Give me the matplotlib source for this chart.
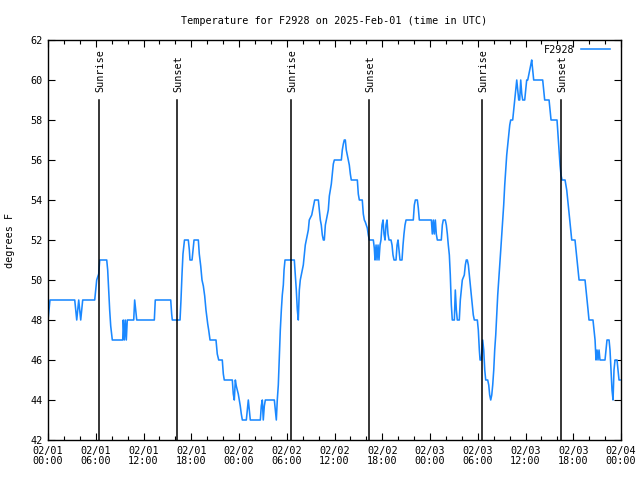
import matplotlib
matplotlib.use("Agg")
import matplotlib.pyplot as plt
import numpy as np

# Hours since 2025-02-01 00:00 UTC and temperature (deg F)
hours = [0, 0.13, 0.25, 3.36, 3.48, 3.61, 3.73, 3.86, 3.98, 4.11, 4.23, 4.36,
         5.87, 5.99, 6.12, 6.37, 6.50, 7.38, 7.50, 7.63, 7.75, 7.88, 8.08,
         9.39, 9.46, 9.59, 9.71, 9.84, 9.96, 10.14, 10.77, 10.89, 11.02, 11.15,
         13.36, 13.48, 15.42, 15.54, 15.62, 16.59, 16.71, 16.84, 16.96, 17.09,
         17.15, 17.63, 17.76, 17.84, 18.10, 18.22, 18.35, 18.89, 19.01, 19.19,
         19.35, 19.52, 19.69, 19.85, 20.07, 20.19, 20.36, 21.11, 21.27, 21.45,
         21.90, 22.03, 22.15, 23.16, 23.28, 23.41, 23.54, 23.66, 23.79, 23.91,
         24.04, 24.16, 24.29, 24.42, 24.92, 25.04, 25.17, 25.30, 25.42, 26.68,
         26.80, 26.93, 27.05, 27.18, 27.31, 28.44, 28.56, 28.69, 28.81, 28.94,
         29.07, 29.19, 29.32, 29.44, 29.57, 29.66, 29.78, 30.95, 31.08, 31.20,
         31.33, 31.45, 31.58, 31.70, 31.96, 32.08, 32.21, 32.33, 32.46, 32.71,
         32.83, 33.14, 33.26, 33.39, 33.51, 33.97, 34.09, 34.22, 34.34, 34.47,
         34.60, 34.72, 34.85, 34.97, 35.22, 35.35, 35.47, 35.60, 35.73, 35.85,
         35.98, 36.86, 36.98, 37.11, 37.23, 37.36, 37.48, 37.61, 37.74, 37.86,
         37.99, 38.11, 38.87, 38.99, 39.12, 39.49, 39.62, 39.75, 39.87, 40.00,
         40.12, 40.25, 40.37, 40.88, 41.00, 41.09, 41.22, 41.34, 41.47, 41.59,
         41.72, 41.84, 41.97, 42.10, 42.22, 42.35, 42.47, 42.60, 42.72, 42.85,
         43.10, 43.23, 43.35, 43.48, 43.73, 43.86, 43.98, 44.11, 44.23, 44.48,
         44.61, 44.73, 44.86, 44.99, 45.90, 46.03, 46.16, 46.41, 46.53, 46.66,
         48.17, 48.29, 48.42, 48.54, 48.67, 48.79, 48.92, 49.42, 49.55, 49.67,
         49.92, 50.05, 50.18, 50.30, 50.43, 50.55, 50.68, 50.80, 51.06, 51.18,
         51.31, 51.43, 51.68, 51.81, 51.94, 52.06, 52.31, 52.44, 52.56, 52.69,
         52.82, 52.94, 53.07, 53.19, 53.32, 53.44, 53.57, 53.95, 54.07, 54.20,
         54.29, 54.45, 54.54, 54.62, 54.75, 54.88, 55.00, 55.25, 55.38, 55.50,
         55.63, 55.76, 55.88, 56.01, 56.13, 56.26, 56.38, 56.51, 56.64, 56.76,
         56.89, 57.01, 57.14, 57.26, 57.39, 57.51, 57.64, 57.77, 57.89, 58.02,
         58.14, 58.39, 58.52, 58.65, 58.77, 58.90, 59.02, 59.15, 59.27, 59.40,
         59.53, 59.65, 59.90, 60.03, 60.15, 60.28, 60.41, 60.53, 60.66, 60.78,
         60.91, 61.03, 62.16, 62.29, 62.41, 62.96, 63.08, 63.21, 63.96, 64.09,
         64.21, 64.34, 64.46, 64.59, 64.97, 65.18, 65.31, 65.43, 65.56, 65.68,
         65.81, 66.22, 66.35, 66.47, 66.60, 66.73, 67.48, 67.61, 67.73, 67.86,
         67.98, 68.48, 68.61, 68.74, 68.86, 68.99, 69.11, 69.24, 69.36, 69.99,
         70.12, 70.24, 70.50, 70.62, 70.75, 70.87, 71.00, 71.12, 71.25, 71.50,
         71.63, 71.75, 71.88]

temps = [48, 48.5, 49, 49, 48.5, 48, 48.5, 49, 48.5, 48, 48.5, 49,
         49, 49.5, 50, 50.3, 51, 51, 50.5, 49.5, 48.5, 47.7, 47,
         47, 48, 47, 48, 47, 48, 48, 48, 49, 48.5, 48,
         48, 49, 49, 48.3, 48, 48, 49, 50.3, 51.3, 51.8,
         52, 52, 51.5, 51, 51, 51.5, 52, 52, 51.3, 50.7,
         50, 49.7, 49.2, 48.5, 47.8, 47.5, 47, 47, 46.3, 46,
         46, 45.3, 45, 45, 44.3, 44, 45, 44.7, 44.5, 44.3,
         44, 43.7, 43.3, 43, 43, 43.5, 44, 43.5, 43, 43,
         43.7, 44, 43, 43.7, 44, 44, 43.5, 43, 44, 44.75,
         46.25, 47.5, 48.5, 49.25, 49.75, 50.5, 51, 51, 50.25, 49.5,
         48.5, 48, 49.5, 50, 50.5, 50.75, 51.25, 51.75, 52, 52.5,
         53, 53.25, 53.5, 53.75, 54, 54, 53.5, 53, 52.75, 52.25,
         52, 52, 52.75, 53, 53.5, 54.2, 54.5, 54.8, 55.3, 55.8,
         56, 56, 56.5, 56.8, 57, 57, 56.5, 56.25, 56, 55.75,
         55.3, 55, 55, 54.3, 54, 54, 53.3, 53, 52.9, 52.75,
         52.6, 52.25, 52, 52, 51.6, 51, 51.75, 51, 51.75, 51,
         51.75, 52, 52.75, 53, 52.3, 52, 52.75, 53, 52.3, 52,
         52, 51.75, 51.25, 51, 51, 51.75, 52, 51.5, 51, 51,
         51.75, 52.3, 52.75, 53, 53, 53.75, 54, 54, 53.6, 53,
         53, 52.3, 53, 52.3, 53, 52.3, 52, 52, 52.75, 53,
         53, 52.75, 52.3, 51.75, 51.25, 50.25, 48.75, 48, 48, 49.5,
         48.5, 48, 48, 49, 49.5, 50, 50.25, 50.75, 51, 51,
         50.75, 50.25, 49.75, 49.25, 48.75, 48.25, 48, 48, 47.5, 46.5,
         46, 46, 46.5, 47, 46.5, 45.5, 45, 45, 44.75, 44.25,
         44, 44.25, 44.75, 45.5, 46.5, 47.25, 48.25, 49.25, 50, 50.75,
         51.5, 52.25, 53, 53.75, 54.75, 55.5, 56.25, 56.75, 57.25, 57.75,
         58, 58, 58.5, 59, 59.5, 60, 59.5, 59, 59, 60,
         59.3, 59, 59, 59.5, 60, 60, 60.25, 60.5, 60.75, 61,
         60.5, 60, 60, 59.5, 59, 59, 58.5, 58, 58, 57.25,
         56.5, 55.75, 55.25, 55, 55, 54.5, 54, 53.5, 53, 52.5,
         52, 52, 51.5, 51, 50.5, 50, 50, 49.5, 49, 48.5,
         48, 48, 47.5, 47, 46, 46.5, 46, 46.5, 46, 46,
         46.5, 47, 47, 46.5, 45.5, 44.5, 44, 45.5, 46, 46,
         45.5, 45, 45]

sun_hours = [6.45, 16.25, 30.58, 40.38, 54.58, 64.50]
sun_labels = ["Sunrise", "Sunset", "Sunrise", "Sunset", "Sunrise", "Sunset"]

xtick_hours = [0, 6, 12, 18, 24, 30, 36, 42, 48, 54, 60, 66, 72]
xtick_labels = ["02/01\n00:00", "02/01\n06:00", "02/01\n12:00", "02/01\n18:00",
                "02/02\n00:00", "02/02\n06:00", "02/02\n12:00", "02/02\n18:00",
                "02/03\n00:00", "02/03\n06:00", "02/03\n12:00", "02/03\n18:00",
                "02/04\n00:00"]
yticks = [42, 44, 46, 48, 50, 52, 54, 56, 58, 60, 62]

title = "Temperature for F2928 on 2025-Feb-01 (time in UTC)"
series_name = "F2928"

plt.rcParams['font.family'] = ['DejaVu Sans Mono']
fs = 7.3

fig = plt.figure(figsize=(6.4, 4.8), dpi=100)
ax = fig.add_axes([48/640, 1-440/480, (621-48)/640, 400/480])

ax.plot(hours, temps, color='#1a88ff', lw=1.15, label=series_name)

for h, lab in zip(sun_hours, sun_labels):
    ax.plot([h, h], [42, 59], color='black', lw=1.1)
    ax.text(h + 0.15, 59.4, lab, rotation=90, ha='center', va='bottom',
            fontsize=fs)

ax.set_xlim(0, 72)
ax.set_ylim(42, 62)
ax.set_xticks(xtick_hours)
ax.set_xticklabels(xtick_labels, fontsize=fs, linespacing=1.1)
ax.set_xticks(np.arange(0, 73, 2), minor=True)
ax.set_yticks(yticks)
ax.set_yticklabels([str(v) for v in yticks], fontsize=fs)
ax.tick_params(which='both', direction='in', top=True, right=True, width=0.8)
ax.tick_params(which='major', length=5, pad=4)
ax.tick_params(which='minor', length=3)
for s in ax.spines.values():
    s.set_linewidth(1.0)

ax.set_ylabel("degrees F", fontsize=fs, labelpad=11)
ax.set_title(title, fontsize=fs, pad=11.5)

leg = ax.legend(loc='upper right', bbox_to_anchor=(0.981, 0.988),
                frameon=False, markerfirst=False, fontsize=fs,
                handlelength=2.9, handletextpad=0.6, borderpad=0,
                borderaxespad=0)

fig.savefig("out.png", dpi=100)
